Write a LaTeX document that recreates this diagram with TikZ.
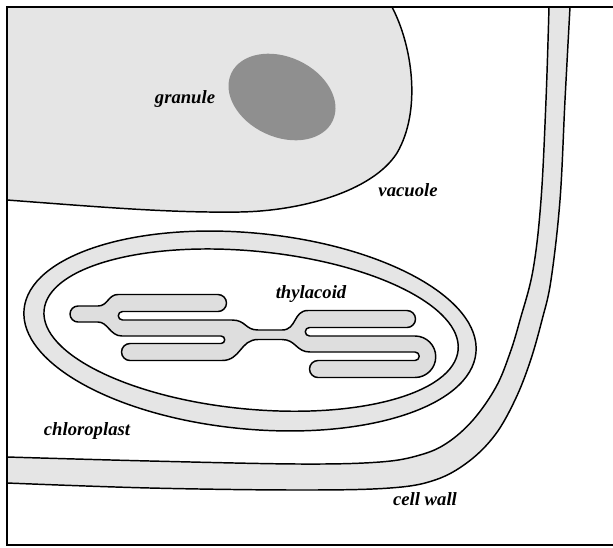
\documentclass[tikz,border=0pt]{standalone}
\usepackage{fontspec}
\setmainfont{Liberation Serif}
\definecolor{palegray}{HTML}{E5E5E5}
\definecolor{tubegray}{HTML}{DEDEDE}
\definecolor{granulegray}{HTML}{8F8F8F}
\begin{document}
\begin{tikzpicture}[x=0.75pt,y=-0.75pt,
  outline/.style={draw=black,line width=1.1pt,line join=round},
  pale/.style={fill=palegray},
  framestyle/.style={draw=black,line width=1.2pt},
  lbl/.style={font=\fontsize{14}{16}\selectfont\bfseries\itshape,inner sep=0pt,anchor=base}]
\useasboundingbox (0,0) rectangle (613,547);

% vacuole
\filldraw[outline,pale] (7,7) -- (392,7)
  .. controls (412,45) and (422,110) .. (397,153)
  .. controls (372,192) and (300,211) .. (240,212)
  .. controls (170,213) and (100,207) .. (7,200) -- cycle;

% granule
\fill[granulegray,rotate around={-25:(282,97)}] (282,97) ellipse [x radius=56, y radius=40];

% cell wall band
\filldraw[outline,pale] plot[smooth,tension=0.6] coordinates {
  (570,7) (565,100) (560,200) (551,280) (542,320) (530,362) (515,400)
  (495,435) (468,462) (435,480) (390,488) (300,490) (150,488) (7,483)}
  -- plot[smooth,tension=0.6] coordinates {
  (7,457) (150,461) (300,464) (380,462) (420,455) (447,443) (473,420)
  (496,387) (510,353) (520,320) (533,270) (541,200) (546,100) (549,7)}
  -- cycle;

% chloroplast envelope
\filldraw[outline,pale,even odd rule,rotate around={-5.5:(250,331)}]
  (250,331) ellipse [x radius=227, y radius=98]
  (251,330) ellipse [x radius=208, y radius=79];

% thylakoid membrane
\filldraw[outline,fill=tubegray]
  (118,294.5) -- (218,294.5) arc[start angle=-90,end angle=90,radius=8.5]
  -- (122.5,311.5) arc[start angle=-90,end angle=-270,radius=4.25]
  -- (232,320) .. controls (246,320) and (245,330) .. (258,330)
  -- (282,330) .. controls (297,330) and (293,310.5) .. (308,310.5)
  -- (407,310.5) arc[start angle=-90,end angle=90,radius=8.5]
  -- (309.5,327.5) arc[start angle=-90,end angle=-270,radius=4.25]
  -- (415,336) arc[start angle=-90,end angle=90,radius=20.75]
  -- (318,377.5) arc[start angle=90,end angle=270,radius=8.5]
  -- (415,360.5) arc[start angle=90,end angle=-90,radius=4.25]
  -- (310,352) .. controls (296,352) and (296,339.5) .. (282,339.5)
  -- (258,339.5) .. controls (240,339.5) and (241,360.5) .. (222,360.5)
  -- (130,360.5) arc[start angle=90,end angle=270,radius=8.5]
  -- (221,343.5) arc[start angle=90,end angle=-90,radius=3.75]
  -- (122,336) .. controls (110,336) and (108,322) .. (98,322)
  -- (78,322) arc[start angle=90,end angle=270,radius=8]
  -- (98,306) .. controls (108,306) and (108,294.5) .. (118,294.5) -- cycle;

% frame
\draw[framestyle] (613,7) -- (7,7) -- (7,545) -- (613,545);

% labels
\node[lbl] (granule) at (185,103) {granule};
\node[lbl] (vacuole) at (408,196) {vacuole};
\node[lbl] (thylakoid) at (311,298) {thylacoid};
\node[lbl] (chloroplast) at (87,435) {chloroplast};
\node[lbl] (cellwall) at (425,505) {cell wall};
\end{tikzpicture}
\end{document}
